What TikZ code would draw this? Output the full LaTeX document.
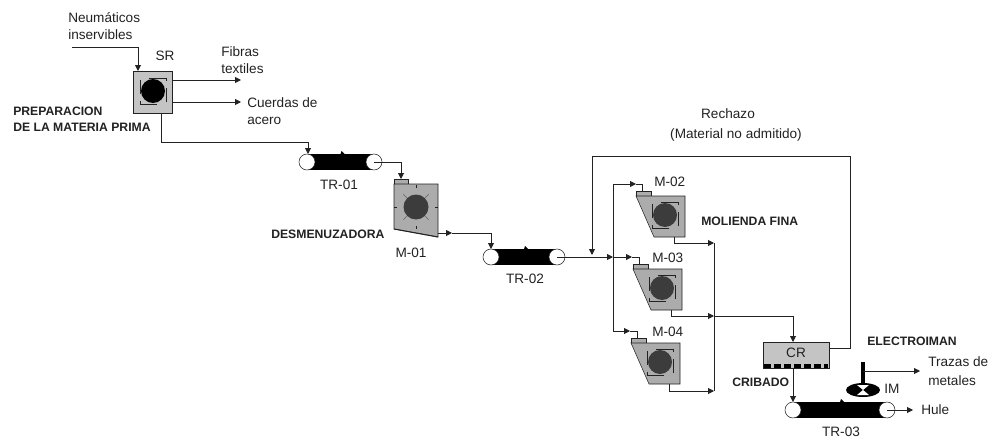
\documentclass[tikz,border=0pt]{standalone}
\usepackage{fontspec}
\setmainfont{Liberation Sans}
\usetikzlibrary{arrows.meta}
\definecolor{linecol}{HTML}{222222}
\definecolor{boxgray}{HTML}{C4C4C4}
\definecolor{millgray}{HTML}{ACACAC}
\definecolor{rotorcol}{HTML}{3C3C3C}
\tikzset{
    rotor/.pic={
        \fill[pic actions] (0,0) circle (12);
        \draw[linecol] (-4,-13)--(13,-13)--(13,-10);
        \draw[linecol] (4,13)--(-13,13)--(-13,10);
        \draw[linecol] (-13,-11)--(-13,3);
        \draw[linecol] (13,11)--(13,-3);
    },
    mill/.pic={
        \draw[linecol,fill=millgray] (0,-5) rectangle (15,0);
        \draw[linecol,fill=millgray] (0,0)--(49,0)--(49,41)--(18,41)--cycle;
        \pic[fill=rotorcol] at (29,19) {rotor};
        \coordinate (-in) at (6,-5);
        \coordinate (-out) at (38,41);
    }
}
\begin{document}
\begin{tikzpicture}[
    x=0.75pt,y=-0.75pt,
    >={Stealth[length=4.5pt,width=4.5pt,inset=0pt]},
    every node/.style={font=\fontsize{10.2}{13}\selectfont,text=linecol,inner sep=0pt},
    area/.style={font=\fontsize{9.15}{12}\selectfont\bfseries,align=left},
    stream/.style={draw=linecol,line width=0.7pt},
    roller/.style={circle,draw=linecol,fill=white,minimum size=12pt},
    sepbox/.style={rectangle,draw=linecol,fill=boxgray,minimum width=29.25pt,minimum height=31.5pt}
]
\useasboundingbox (0,0) rectangle (989,439);

% conveyors
\foreach \name/\xa/\xb/\yy in {TR01/307/374/162,TR02/491/557/257,TR03/793/887/410}{
    \fill[black] (\xa,\yy-8) rectangle (\xb,\yy+8);
    \fill[black] ({(\xa+\xb)/2},\yy-8)--({(\xa+\xb)/2+1},\yy-11)--({(\xa+\xb)/2+4},\yy-8)--cycle;
    \node[roller] (\name L) at (\xa,\yy) {};
    \node[roller] (\name R) at (\xb,\yy) {};
}

% equipment
\node[sepbox] (SR) at (152.5,92) {};
\pic[fill=black] at (153,91) {rotor};
\pic (M02) at (636,196) {mill};
\pic (M03) at (633,269) {mill};
\pic (M04) at (631,343) {mill};

% shredder
\draw[linecol,fill=millgray] (394,179) rectangle (408,184);
\draw[linecol,fill=millgray] (394,184)--(438,184)--(438,237)--(394,229)--cycle;
\draw[linecol,thick] (394,229)--(438,237);
\fill[rotorcol] (416,207) circle (12.5);
\foreach \ang in {45,135,225,315}
    \draw[linecol!70] (416,207)+(\ang:13)--+(\ang:18);
\foreach \ang in {0,90,180,270}
    \draw[linecol] (416,207)+(\ang:19)--+(\ang:22);

% screen
\node[rectangle,draw=linecol,fill=boxgray,minimum width=49.5pt,minimum height=19.5pt] (CR) at (796,355) {};
\draw[black,line width=3pt,dash pattern=on 5pt off 2.5pt] (764,365.5)--(828,365.5);
\node (CRtag) at (796,353) {CR};

% magnet
\fill[black] (863,390) ellipse (17 and 7);
\fill[white] (857,385)--(869,385)--(863,390)--cycle;
\fill[white] (857,395)--(869,395)--(863,390)--cycle;
\draw[black,line width=2.4pt] (863,362)--(863,384);

% stream end points
\foreach \pt/\xx/\yy in {feed/72/47,feedin/138/71,fibras/241/80,cuerdas/241/102,SRout/161/113,
    TR01in/308/154,TR01c/308/142,M01in/401/179,M01out/438/233,M01mid/452/233,TR02in/491/249,
    reject/592/255,split/613/257,top/636/184,mid/632/257,low/630/331,lowc/613/331,
    M02j/714/243,M03j/714/316,M04j/714/391,CRin/793/342,CRout/793/368,TR03in/793/402,
    rejA/850/156,rejB/592/156,CRrej/829/348,trazas/920/371,magnet/863/371,hule/913/410}
    \coordinate (\pt) at (\xx,\yy);

% streams
\draw[stream,->] (feed)-|(feedin);
\draw[stream,->] (SR.east|-fibras)--(fibras);
\draw[stream,->] (SR.east|-cuerdas)--(cuerdas);
\draw[stream] (SRout)|-(TR01c);
\draw[stream,->] (TR01c)--(TR01in);
\draw[stream,->] (TR01R.center)-|(M01in);
\draw[stream,->] (M01out)--(M01mid);
\draw[stream,->] (M01mid)-|(TR02in);
\draw[stream,->] (TR02R.center)--(split);
\draw[stream,->] (split)|-(top);
\draw[stream] (top)-|(M02-in);
\draw[stream,->] (split)--(mid);
\draw[stream] (mid)-|(M03-in);
\draw[stream] (split)--(lowc);
\draw[stream,->] (lowc)--(low);
\draw[stream] (low)-|(M04-in);
\draw[stream,->] (M02-out)|-(M02j);
\draw[stream] (M02j)--(M04j);
\draw[stream,->] (M03-out)|-(M03j);
\draw[stream,->] (M04-out)|-(M04j);
\draw[stream,->] (M03j)-|(CRin);
\draw[stream,->] (CRout)--(TR03in);
\draw[stream] (CRrej)-|(rejA)--(rejB);
\draw[stream,->] (rejB)--(reject);
\draw[stream,->] (magnet)--(trazas);
\draw[stream,->] (TR03R.center)--(hule);

% labels
\node[anchor=west,align=left] (lneum) at (68,26) {Neumáticos\\inservibles};
\node (lsr) at (165,56) {SR};
\node[anchor=west,align=left] (lfib) at (221,60) {Fibras\\textiles};
\node[anchor=west,align=left] (lcue) at (247,111) {Cuerdas de\\acero};
\node[area,anchor=west] (lprep) at (13,119) {PREPARACION\\DE LA MATERIA PRIMA};
\node (ltr1) at (339,185) {TR-01};
\node[area,anchor=west] (ldes) at (271,234) {DESMENUZADORA};
\node (lm1) at (411,253) {M-01};
\node (ltr2) at (525,279) {TR-02};
\node (lrec) at (728,114) {Rechazo};
\node (lmat) at (736,135) {(Material no admitido)};
\node[anchor=west] (lm2) at (654,182) {M-02};
\node[anchor=west] (lm3) at (652,258) {M-03};
\node[anchor=west] (lm4) at (652,332) {M-04};
\node[area,anchor=west] (lmol) at (701,221) {MOLIENDA FINA};
\node[area,anchor=west] (lele) at (867,341) {ELECTROIMAN};
\node[area,anchor=west] (lcri) at (732,382) {CRIBADO};
\node[anchor=west,align=left] (ltra) at (928,371) {Trazas de\\[1pt]metales};
\node[anchor=west] (lim) at (884,389) {IM};
\node[anchor=west] (lhul) at (921,410) {Hule};
\node (ltr3) at (841,432) {TR-03};
\end{tikzpicture}
\end{document}
